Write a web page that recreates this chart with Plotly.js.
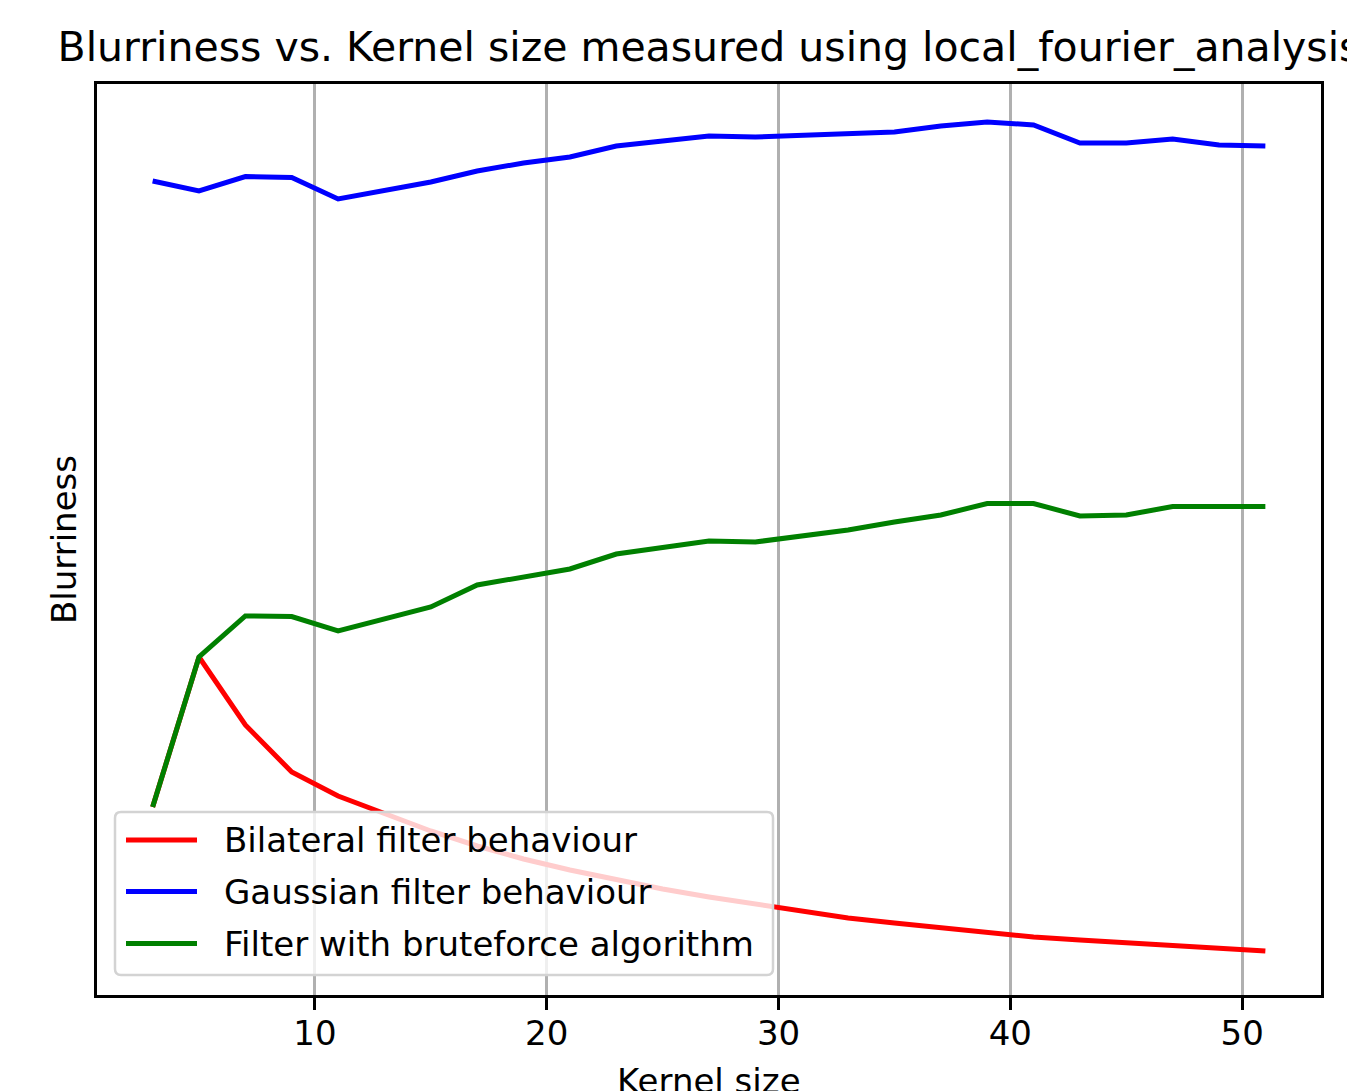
<!DOCTYPE html>
<html>
<head>
<meta charset="utf-8">
<script src="https://cdn.plot.ly/plotly-3.0.1.min.js"></script>
<style>html,body{margin:0;padding:0;background:#fff;overflow:hidden;}#chart{width:1347px;height:1091px;}</style>
</head>
<body>
<div id="chart"></div>
<script>
// Kernel sizes (x)
const kernelSizes = [3,5,7,9,11,13,15,17,19,21,23,25,27,29,31,33,35,37,39,41,43,45,47,49,51];
// Blurriness values (arbitrary units)
const bilateral = [1.88,3.38,2.70,2.23,1.99,1.81,1.64,1.49,1.36,1.25,1.15,1.06,0.98,0.91,0.83,0.77,0.72,0.67,0.62,0.58,0.55,0.52,0.49,0.46,0.44];
const gaussian = [8.14,8.04,8.185,8.175,7.96,8.05,8.13,8.24,8.32,8.38,8.49,8.54,8.59,8.58,8.60,8.62,8.63,8.69,8.73,8.70,8.52,8.52,8.56,8.50,8.49];
const bruteforce = [1.88,3.38,3.79,3.785,3.64,3.76,3.88,4.10,4.18,4.26,4.41,4.48,4.54,4.53,4.59,4.65,4.73,4.80,4.915,4.915,4.79,4.80,4.885,4.885,4.885];
const seriesNames = ["Bilateral filter behaviour","Gaussian filter behaviour","Filter with bruteforce algorithm"];
const seriesColors = ["#ff0000","#0000ff","#008000"];
const xTicks = [10,20,30,40,50];
const xTitle = "Kernel size";

const FONT = "DejaVu Sans, sans-serif";
const lineW = 5;
const traces = [
  {x: kernelSizes, y: bilateral, name: seriesNames[0], mode: "lines", line: {color: seriesColors[0], width: lineW}},
  {x: kernelSizes, y: gaussian, name: seriesNames[1], mode: "lines", line: {color: seriesColors[1], width: lineW}},
  {x: kernelSizes, y: bruteforce, name: seriesNames[2], mode: "lines", line: {color: seriesColors[2], width: lineW}}
];

// plot-area geometry (pixels) used to place the legend box
const PL = 97, PR = 1321, PT = 84, PB = 995;
const X = px => (px - PL) / (PR - PL);
const Y = py => (PB - py) / (PB - PT);

// matplotlib-style legend (rounded frame, long line samples)
const lg = {l: 115, r: 773, t: 812, b: 975, rad: 6, lineX0: 126, lineX1: 197, textX: 222, rows: [840, 891.5, 943.5]};
function roundRect(l, t, r, b, rad) {
  return `M${X(l+rad)},${Y(t)} L${X(r-rad)},${Y(t)} Q${X(r)},${Y(t)} ${X(r)},${Y(t+rad)} ` +
         `L${X(r)},${Y(b-rad)} Q${X(r)},${Y(b)} ${X(r-rad)},${Y(b)} L${X(l+rad)},${Y(b)} ` +
         `Q${X(l)},${Y(b)} ${X(l)},${Y(b-rad)} L${X(l)},${Y(t+rad)} Q${X(l)},${Y(t)} ${X(l+rad)},${Y(t)} Z`;
}
const shapes = [{
  type: "path", xref: "paper", yref: "paper", layer: "above",
  path: roundRect(lg.l, lg.t, lg.r, lg.b, lg.rad),
  fillcolor: "rgba(255,255,255,0.8)", line: {color: "#d3d3d3", width: 2.5}
}];
const annotations = [];
seriesNames.forEach((nm, i) => {
  shapes.push({type: "line", xref: "paper", yref: "paper", layer: "above",
    x0: X(lg.lineX0), x1: X(lg.lineX1), y0: Y(lg.rows[i]), y1: Y(lg.rows[i]),
    line: {color: seriesColors[i], width: lineW}});
  annotations.push({xref: "paper", yref: "paper", x: X(lg.textX), y: Y(lg.rows[i]),
    xanchor: "left", yanchor: "middle", showarrow: false, text: nm,
    font: {family: FONT, size: 34, color: "#000000"}});
});
// x-axis title, placed like matplotlib's (partly cut by the bottom edge)
annotations.push({xref: "paper", yref: "paper", x: 0.5, y: Y(1081),
  xanchor: "center", yanchor: "middle", showarrow: false, text: xTitle,
  font: {family: FONT, size: 34, color: "#000000"}});

const layout = {
  width: 1347, height: 1091,
  paper_bgcolor: "#ffffff", plot_bgcolor: "#ffffff",
  margin: {l: PL, r: 1347 - PR, t: PT, b: 1091 - PB, autoexpand: false},
  font: {family: FONT, size: 34, color: "#000000"},
  title: {
    text: "Blurriness vs. Kernel size measured using local_fourier_analysis",
    font: {family: FONT, size: 41, color: "#000000"},
    xref: "paper", x: 0.5, xanchor: "center",
    yref: "container", y: 1 - 47/1091, yanchor: "middle"
  },
  xaxis: {
    range: [0.6, 53.4],
    tickvals: xTicks, ticktext: xTicks.map(String),
    ticks: "outside", ticklen: 12, tickwidth: 2.5, tickcolor: "#000000",
    ticklabelstandoff: -6,
    tickfont: {family: FONT, size: 34, color: "#000000"},
    showgrid: true, gridcolor: "#b0b0b0", gridwidth: 2.5,
    zeroline: false,
    showline: true, linecolor: "#000000", linewidth: 2.7, mirror: true,
    automargin: false
  },
  yaxis: {
    range: [0, 9.11],
    showticklabels: false, ticks: "",
    showgrid: false, zeroline: false,
    showline: true, linecolor: "#000000", linewidth: 2.7, mirror: true,
    title: {text: "Blurriness", font: {family: FONT, size: 34, color: "#000000"}, standoff: 8},
    automargin: false
  },
  showlegend: false,
  shapes: shapes,
  annotations: annotations
};

Plotly.newPlot("chart", traces, layout, {displayModeBar: false, responsive: false});
</script>
</body>
</html>
